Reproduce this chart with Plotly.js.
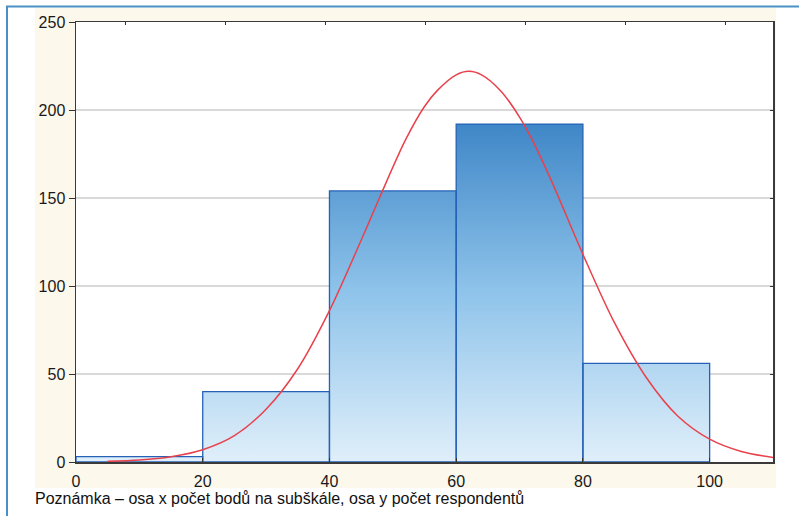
<!DOCTYPE html>
<html>
<head>
<meta charset="utf-8">
<script src="https://cdn.plot.ly/plotly-3.0.1.min.js"></script>
<style>
  html, body { margin: 0; padding: 0; background: #ffffff; }
  #chart { width: 799px; height: 516px; }
</style>
</head>
<body>
<div id="chart"></div>
<script>
// Histogram of subscale scores: bin edges and respondent counts
const binEdges = [0, 20, 40, 60, 80, 100];
const counts = [3, 40, 154, 192, 56];

// Fitted normal curve, sampled along the score axis
const curveX = [5, 10, 15, 20, 25, 30, 35, 40, 45, 48, 52, 55, 57, 60, 62, 64, 67, 70, 72, 75, 80, 85, 90, 95, 100, 105, 110];
const curveY = [0.4, 1.1, 3, 7, 15, 30, 53, 86, 126, 151, 183, 202, 211, 220, 222, 220, 211, 196, 183, 160, 118, 79, 48, 26, 13, 6, 2.6];

// Axis ticks
const xTicks = [0, 20, 40, 60, 80, 100];
const yTicks = [0, 50, 100, 150, 200, 250];

const noteText = 'Poznámka – osa x počet bodů na subškále, osa y počet respondentů';

// Derived bar geometry
const binCenters = counts.map((_, i) => (binEdges[i] + binEdges[i + 1]) / 2);
const binWidths = counts.map((_, i) => binEdges[i + 1] - binEdges[i]);
const stepY = counts.concat([counts[counts.length - 1]]);

const fontFamily = 'Arial, "Liberation Sans", sans-serif';
const tickFont = { family: fontFamily, size: 16, color: '#1a1a1a' };

// plot area in pixels: left 76, right 773, top 22, bottom 462
const W = 799, H = 516, L = 76, R = 26, T = 22, B = 54;
const pw = W - L - R, ph = H - T - B;
const px = (x) => (x - L) / pw;
const py = (y) => (H - B - y) / ph;

const traces = [
  {
    // gradient body of the bars
    type: 'scatter',
    x: binEdges,
    y: stepY,
    mode: 'lines',
    line: { shape: 'hv', width: 0, color: 'rgba(0,0,0,0)' },
    fill: 'tozeroy',
    fillgradient: {
      type: 'vertical',
      start: 0,
      stop: 195,
      colorscale: [[0, '#e0effa'], [0.5, '#8ec3ea'], [1, '#3d85c6']]
    },
    hoverinfo: 'skip',
    showlegend: false,
    xaxis: 'x',
    yaxis: 'y'
  },
  {
    // bar outlines
    type: 'bar',
    x: binCenters,
    y: counts,
    width: binWidths,
    marker: { color: 'rgba(0,0,0,0)', line: { color: '#2562b6', width: 1.3 } },
    showlegend: false,
    xaxis: 'x2',
    yaxis: 'y2'
  },
  {
    type: 'scatter',
    x: curveX,
    y: curveY,
    mode: 'lines',
    line: { color: '#e9414c', width: 1.5, shape: 'spline', smoothing: 0.9 },
    showlegend: false,
    xaxis: 'x2',
    yaxis: 'y2'
  }
];

const layout = {
  width: W,
  height: H,
  margin: { l: L, r: R, t: T, b: B, pad: 0 },
  paper_bgcolor: '#ffffff',
  plot_bgcolor: 'rgba(0,0,0,0)',
  font: { family: fontFamily, size: 16, color: '#1a1a1a' },
  showlegend: false,
  bargap: 0,
  xaxis: {
    range: [0, 110],
    tickvals: xTicks,
    ticktext: xTicks.map(String),
    tickfont: tickFont,
    ticks: 'inside',
    ticklen: 4,
    tickcolor: '#333333',
    ticklabelstandoff: 4,
    showgrid: false,
    zeroline: false,
    showline: true,
    linecolor: '#3a3a3a',
    linewidth: 1.5,
    mirror: true,
    fixedrange: true
  },
  yaxis: {
    range: [0, 250],
    tickvals: yTicks,
    ticktext: yTicks.map(String),
    tickfont: tickFont,
    ticks: 'outside',
    ticklen: 6,
    tickcolor: '#333333',
    showgrid: true,
    gridcolor: '#d9d9d9',
    gridwidth: 1.5,
    zeroline: false,
    showline: true,
    linecolor: '#3a3a3a',
    linewidth: 1.5,
    mirror: true,
    fixedrange: true
  },
  xaxis2: {
    overlaying: 'x',
    side: 'top',
    range: [0, 110],
    tick0: 7.75,
    dtick: 15.8,
    ticks: 'inside',
    ticklen: 3,
    tickcolor: '#333333',
    showticklabels: false,
    showgrid: false,
    zeroline: false,
    showline: false,
    fixedrange: true
  },
  yaxis2: {
    overlaying: 'y',
    side: 'right',
    range: [0, 250],
    tickvals: yTicks,
    ticks: 'inside',
    ticklen: 3,
    tickcolor: '#333333',
    showticklabels: false,
    showgrid: false,
    zeroline: false,
    showline: false,
    fixedrange: true
  },
  shapes: [
    // cream panel behind the plot
    {
      type: 'rect', xref: 'paper', yref: 'paper', layer: 'below',
      x0: px(35), x1: px(776), y0: py(488), y1: py(8),
      fillcolor: '#fdf8ec', line: { width: 0 }
    },
    // white plotting area
    {
      type: 'rect', xref: 'paper', yref: 'paper', layer: 'below',
      x0: 0, x1: 1, y0: 0, y1: 1,
      fillcolor: '#ffffff', line: { width: 0 }
    },
    // blue frame: left and top edges
    {
      type: 'line', xref: 'paper', yref: 'paper', layer: 'below',
      x0: px(7), x1: px(7), y0: py(516), y1: py(6),
      line: { color: '#4a90c6', width: 2 }
    },
    {
      type: 'line', xref: 'paper', yref: 'paper', layer: 'below',
      x0: px(6), x1: px(799), y0: py(6.5), y1: py(6.5),
      line: { color: '#4a90c6', width: 2 }
    }
  ],
  annotations: [
    {
      xref: 'paper', yref: 'paper',
      x: px(33), y: py(498),
      xanchor: 'left', yanchor: 'middle',
      text: noteText,
      showarrow: false,
      font: { family: fontFamily, size: 16, color: '#111111' }
    }
  ]
};

Plotly.newPlot('chart', traces, layout, { staticPlot: true, displayModeBar: false });
</script>
</body>
</html>
